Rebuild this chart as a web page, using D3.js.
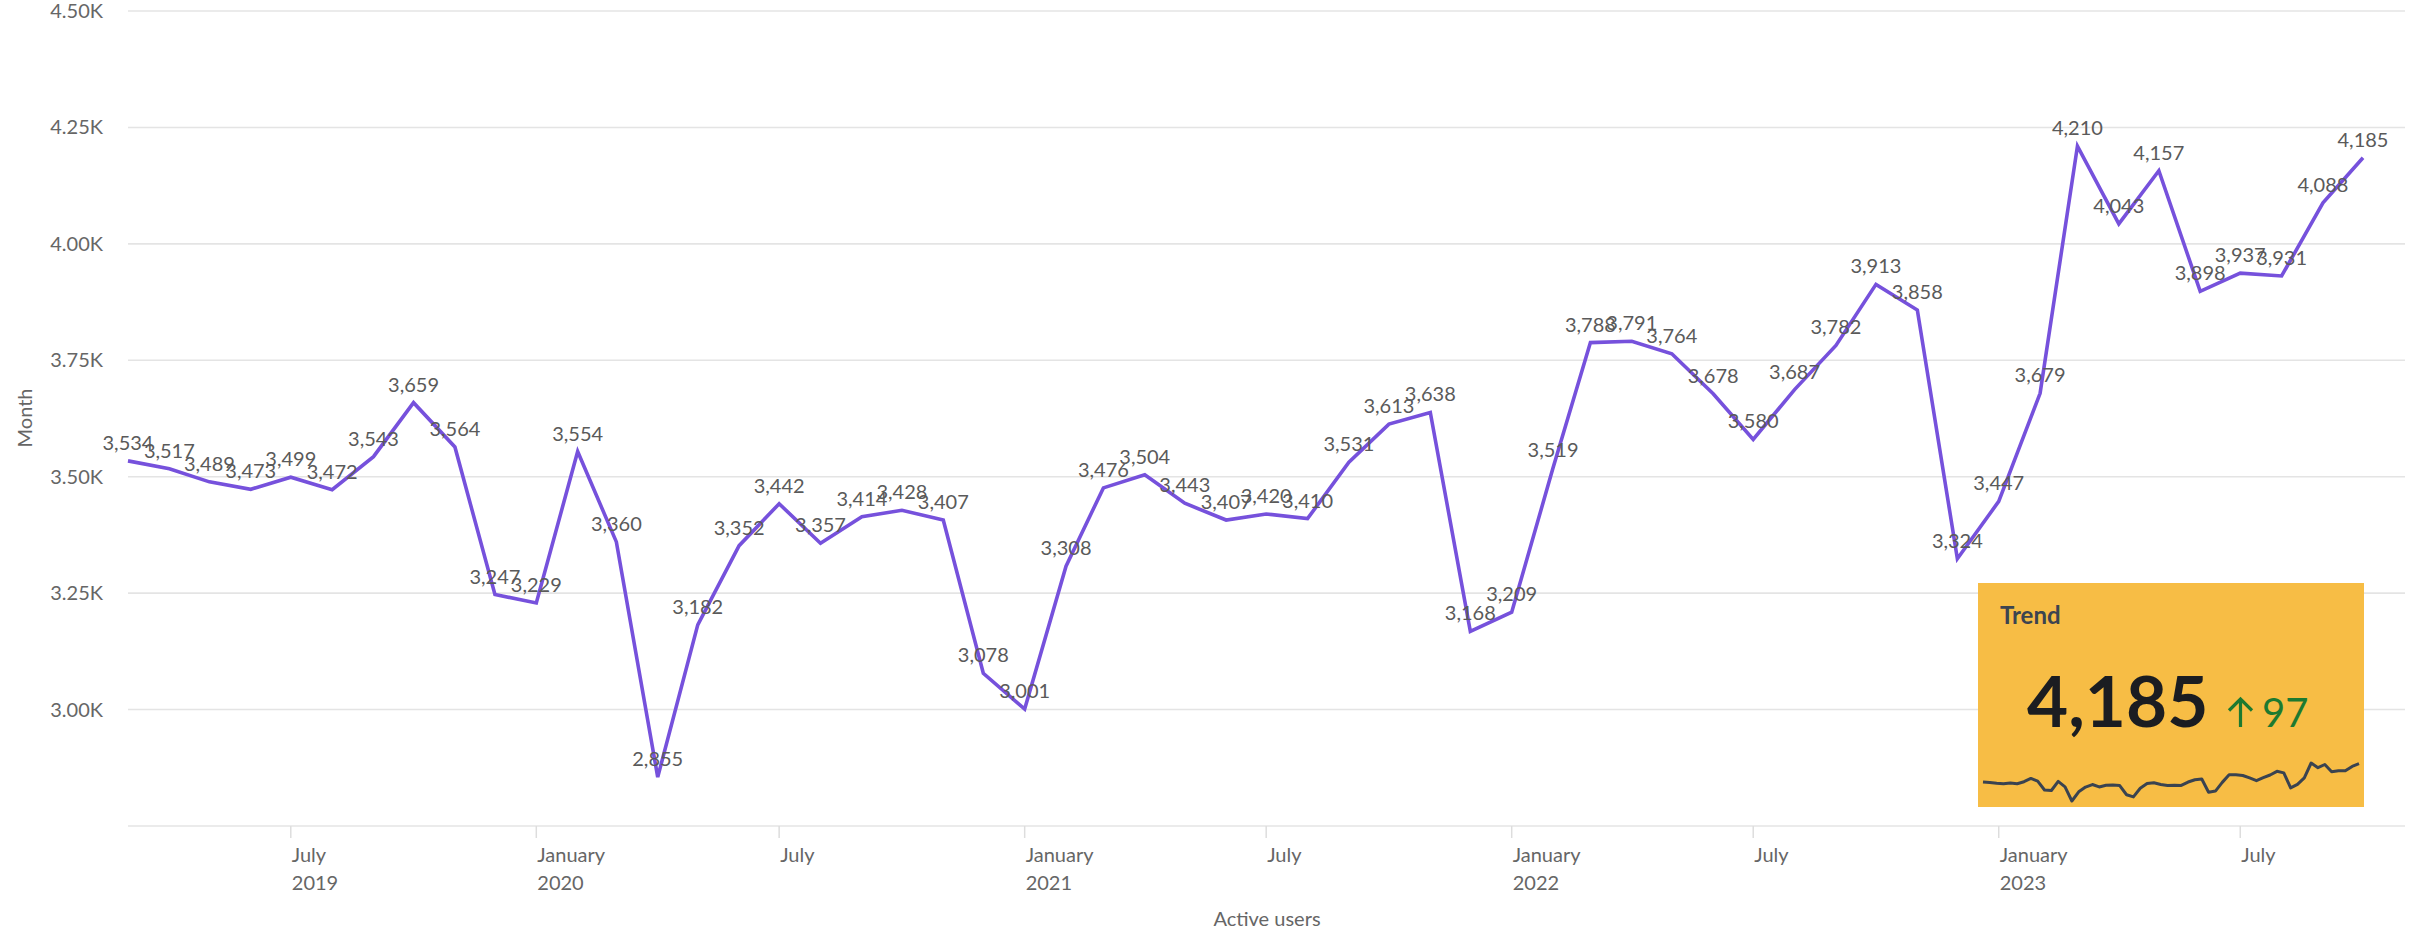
<!DOCTYPE html>
<html>
<head>
<meta charset="utf-8">
<script src="https://cdn.jsdelivr.net/npm/d3@7"></script>
<style>
  html, body { margin: 0; padding: 0; background: #ffffff; }
  svg { display: block; font-family: Lato, "Open Sans", sans-serif; }
</style>
</head>
<body>
<svg id="chart" width="2410" height="933"></svg>
<script>
const months = [
  "2019-03","2019-04","2019-05","2019-06","2019-07","2019-08","2019-09","2019-10","2019-11","2019-12",
  "2020-01","2020-02","2020-03","2020-04","2020-05","2020-06","2020-07","2020-08","2020-09","2020-10","2020-11","2020-12",
  "2021-01","2021-02","2021-03","2021-04","2021-05","2021-06","2021-07","2021-08","2021-09","2021-10","2021-11","2021-12",
  "2022-01","2022-02","2022-03","2022-04","2022-05","2022-06","2022-07","2022-08","2022-09","2022-10","2022-11","2022-12",
  "2023-01","2023-02","2023-03","2023-04","2023-05","2023-06","2023-07","2023-08","2023-09","2023-10"
];
const activeUsers = [
  3534, 3517, 3489, 3473, 3499, 3472, 3543, 3659, 3564, 3247,
  3229, 3554, 3360, 2855, 3182, 3352, 3442, 3357, 3414, 3428, 3407, 3078,
  3001, 3308, 3476, 3504, 3443, 3407, 3420, 3410, 3531, 3613, 3638, 3168,
  3209, 3519, 3788, 3791, 3764, 3678, 3580, 3687, 3782, 3913, 3858, 3324,
  3447, 3679, 4210, 4043, 4157, 3898, 3937, 3931, 4088, 4185
];
const yTicks = [3000, 3250, 3500, 3750, 4000, 4250, 4500];
const xTickDates = ["2019-07","2020-01","2020-07","2021-01","2021-07","2022-01","2022-07","2023-01","2023-07"];
const xTickMonthNames = ["July","January","July","January","July","January","July","January","July"];
const xTickYears = ["2019","2020","","2021","","2022","","2023",""];
const yTitle = "Month";
const xTitle = "Active users";
const trendTitle = "Trend";
const trendValue = 4185;
const trendDelta = 97;

(function () {
const parse = d3.timeParse("%Y-%m");
const data = months.map((m, i) => ({ date: parse(m), value: activeUsers[i] }));

const svg = d3.select("#chart");
const pLeft = 128, pRight = 2405, pTop = 11, pBottom = 826;

const x = d3.scaleTime()
  .domain([parse("2019-03"), parse("2023-10")])
  .range([128, 2363]);
const y = d3.scaleLinear().domain([2750, 4500]).range([pBottom, pTop]);

// gridlines
svg.append("g").selectAll("line").data(yTicks).join("line")
  .attr("x1", pLeft).attr("x2", pRight)
  .attr("y1", d => y(d)).attr("y2", d => y(d))
  .attr("stroke", "#e4e4e4").attr("stroke-width", 1.6);

// y labels
svg.append("g").selectAll("text").data(yTicks).join("text")
  .attr("x", 103).attr("y", d => y(d) + 7)
  .attr("text-anchor", "end")
  .attr("font-size", 20).attr("fill", "#666")
  .text(d => d3.format(".2f")(d / 1000) + "K");

// x axis baseline
svg.append("line")
  .attr("x1", pLeft).attr("x2", pRight)
  .attr("y1", pBottom).attr("y2", pBottom)
  .attr("stroke", "#e4e4e4").attr("stroke-width", 1.6);

// x ticks
const xt = svg.append("g").selectAll("g").data(xTickDates).join("g")
  .attr("transform", d => `translate(${x(parse(d))},0)`);
xt.append("line").attr("x1", 0).attr("x2", 0).attr("y1", pBottom).attr("y2", pBottom + 12)
  .attr("stroke", "#dddddd").attr("stroke-width", 1.5);
xt.append("text").attr("x", 1).attr("y", 862)
  .attr("font-size", 20).attr("fill", "#666")
  .text((d, i) => xTickMonthNames[i]);
xt.append("text").attr("x", 1).attr("y", 890)
  .attr("font-size", 20).attr("fill", "#666")
  .text((d, i) => xTickYears[i]);

// axis titles
svg.append("text")
  .attr("transform", "translate(32,418) rotate(-90)")
  .attr("text-anchor", "middle").attr("font-size", 20).attr("fill", "#666")
  .text(yTitle);
svg.append("text")
  .attr("x", 1267).attr("y", 926)
  .attr("text-anchor", "middle").attr("font-size", 20).attr("fill", "#666")
  .text(xTitle);

// line
const line = d3.line().x(d => x(d.date)).y(d => y(d.value));
svg.append("path").datum(data)
  .attr("d", line)
  .attr("fill", "none")
  .attr("stroke", "#7651dc")
  .attr("stroke-width", 3.6)
  .attr("stroke-linejoin", "miter");

// labels
const fmt = d3.format(",");
svg.append("g").selectAll("text").data(data).join("text")
  .attr("x", d => x(d.date)).attr("y", d => y(d.value) - 11)
  .attr("text-anchor", "middle")
  .attr("font-size", 20).attr("fill", "#5a5a5a")
  .text(d => fmt(d.value));

// trend box
const bx = 1978, by = 583, bw = 386, bh = 224;
const tb = svg.append("g");
tb.append("rect").attr("x", bx).attr("y", by).attr("width", bw).attr("height", bh)
  .attr("fill", "#f7bd45");
tb.append("text").attr("x", 2000).attr("y", 624)
  .attr("font-size", 24).attr("font-weight", 700).attr("fill", "#3c4450")
  .text(trendTitle);
tb.append("text").attr("x", 2027).attr("y", 727)
  .attr("font-size", 71).attr("font-weight", 700).attr("fill", "#1b1d21")
  .text(fmt(trendValue));
// up arrow
tb.append("path")
  .attr("d", "M2240.5,727 L2240.5,699 M2229,710.5 L2240.5,699 L2252,710.5")
  .attr("fill", "none").attr("stroke", "#1d7a30").attr("stroke-width", 3.2);
tb.append("text").attr("x", 2262).attr("y", 727)
  .attr("font-size", 40).attr("fill", "#1d7a30")
  .text(trendDelta);

// sparkline
const sx = d3.scaleLinear().domain([0, activeUsers.length - 1]).range([1983, 2359]);
const sy = d3.scaleLinear().domain(d3.extent(activeUsers)).range([801, 763]);
tb.append("path").datum(activeUsers)
  .attr("d", d3.line().x((d, i) => sx(i)).y(d => sy(d)))
  .attr("fill", "none").attr("stroke", "#3a4350").attr("stroke-width", 3)
  .attr("stroke-linejoin", "round");
})();
</script>
</body>
</html>
